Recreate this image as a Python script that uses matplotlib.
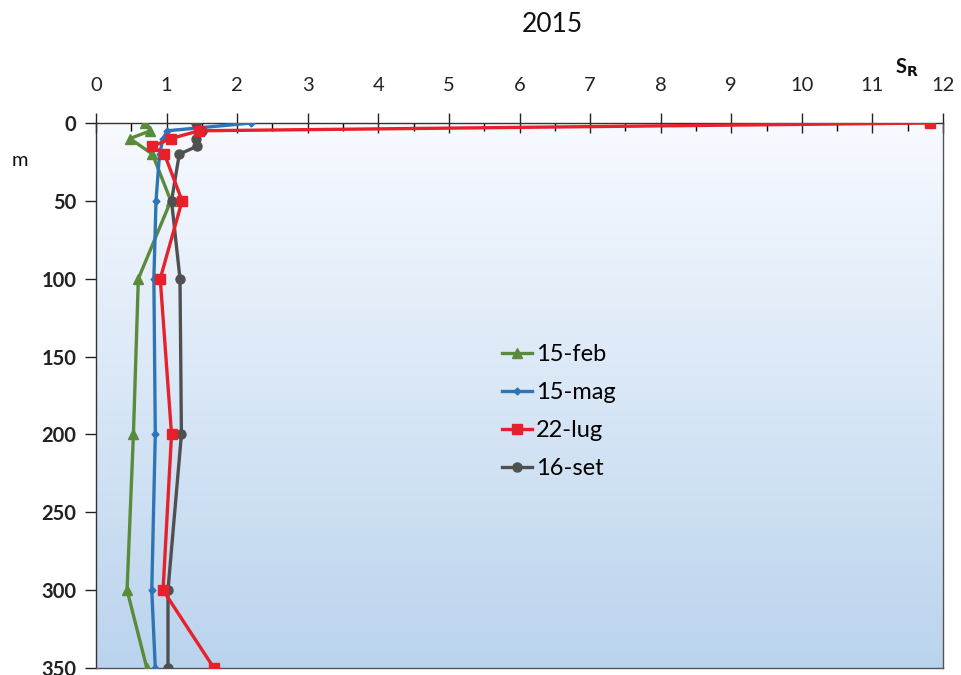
import numpy as np
import matplotlib
matplotlib.use("Agg")
import matplotlib.pyplot as plt
from matplotlib.ticker import MultipleLocator

plt.rcParams['font.family'] = ['Lato', 'DejaVu Sans']

title = "2015"
x_label = "S$_\\mathbf{R}$"
y_label = "m"

feb_depth = [0, 5, 10, 20, 50, 100, 200, 300, 350]
feb_val = [0.70, 0.77, 0.48, 0.80, 1.06, 0.60, 0.53, 0.44, 0.72]

mag_depth = [0, 5, 10, 20, 50, 100, 200, 300, 350]
mag_val = [2.20, 1.01, 0.95, 0.90, 0.85, 0.82, 0.84, 0.79, 0.84]

lug_depth = [0, 5, 10, 15, 20, 50, 100, 200, 300, 350]
lug_val = [11.82, 1.46, 1.06, 0.80, 0.97, 1.22, 0.91, 1.07, 0.95, 1.67]

set_depth = [0, 5, 10, 15, 20, 50, 100, 200, 300, 350]
set_val = [1.41, 1.50, 1.41, 1.43, 1.18, 1.07, 1.19, 1.21, 1.02, 1.02]

x_ticks = list(range(0, 13))
y_ticks = list(range(0, 351, 50))

fig = plt.figure(figsize=(9.61, 6.75), dpi=100)
ax = fig.add_axes([96/961, 1-668/675, (943-96)/961, (668-123)/675])

# background gradient
grad = np.linspace(0, 1, 256)
top = np.array([0.97, 0.98, 1.0])
bot = np.array([0.73, 0.83, 0.93])
img = top[None, None, :] + (bot - top)[None, None, :] * grad[:, None, None]
ax.imshow(img, extent=[0, 1, 0, 1], transform=ax.transAxes, aspect='auto',
          origin='upper', zorder=0)

lw = 2.4
ax.plot(feb_val, feb_depth, color='#5a8b3a', lw=lw, marker='^', ms=7, label='15-feb', zorder=3)
ax.plot(mag_val, mag_depth, color='#2e75b6', lw=lw, marker='D', ms=3.5, label='15-mag', zorder=3)
ax.plot(lug_val, lug_depth, color='#e8202a', lw=lw, marker='s', ms=7, label='22-lug', zorder=4)
ax.plot(set_val, set_depth, color='#505050', lw=lw, marker='o', ms=6.5, label='16-set', zorder=3)

ax.set_xlim(0, 12)
ax.set_ylim(350, 0)
ax.xaxis.tick_top()
ax.set_xticks(x_ticks)
ax.set_yticks(y_ticks)
ax.xaxis.set_minor_locator(MultipleLocator(0.5))
ax.tick_params(axis='x', which='major', direction='inout', length=14, width=1,
               labelsize=14.5, pad=14, colors='#222222')
ax.tick_params(axis='x', which='minor', direction='in', length=6, width=1, top=True, bottom=False)
ax.tick_params(axis='y', which='major', direction='out', length=8, width=1,
               labelsize=14.5, pad=6, colors='#222222')
for lab in ax.get_yticklabels():
    lab.set_fontweight('bold')

for s in ax.spines.values():
    s.set_color('#555555')
    s.set_linewidth(1)
ax.spines['left'].set_color('#333333')
ax.spines['top'].set_color('#333333')

fig.text(552/961, 1-25/675, title, ha='center', va='center', fontsize=19, color='#111111')
fig.text(907/961, 1-68/675, x_label, ha='center', va='center', fontsize=14.5,
         fontweight='bold', color='#111111')
fig.text(20/961, 1-160/675, y_label, ha='center', va='center', fontsize=14.5, color='#111111')

leg = ax.legend(loc='upper left', frameon=False,
                fontsize=17, handlelength=1.25, handletextpad=0.2, labelspacing=0.72,
                borderaxespad=0, borderpad=0)
leg.set_bbox_to_anchor(((502-96)/847, 1-(344-123)/545), transform=ax.transAxes)

fig.savefig("out.png", dpi=100)
